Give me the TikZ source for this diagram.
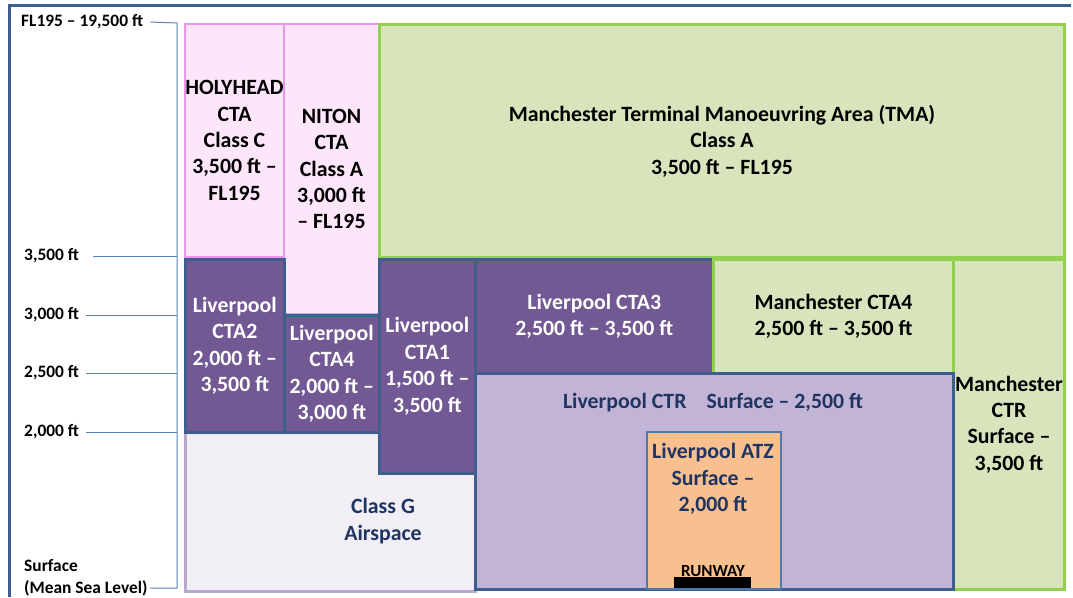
\documentclass[tikz,border=0pt]{standalone}
\usepackage{fontspec}
\setmainfont{Carlito}
\definecolor{pinkfill}{HTML}{FDE5FA}
\definecolor{pinkline}{HTML}{EE96EE}
\definecolor{greenfill}{HTML}{D8E4BC}
\definecolor{greenline}{HTML}{92D050}
\definecolor{purplefill}{HTML}{725993}
\definecolor{blueline}{HTML}{3E5F8E}
\definecolor{lilacfill}{HTML}{C2B4D6}
\definecolor{gfill}{HTML}{F1EEF5}
\definecolor{gline}{HTML}{B7A7CB}
\definecolor{atzfill}{HTML}{F9C08F}
\definecolor{atzline}{HTML}{4F79AA}
\definecolor{navytext}{HTML}{1F3460}
\definecolor{axisline}{HTML}{5A84B4}
\definecolor{framecol}{HTML}{3F5E8E}
\newcommand\bigfnt{\fontsize{21.8}{26.4}\selectfont\bfseries}
\newcommand\axfnt{\fontsize{17.4}{21.5}\selectfont\bfseries}
\begin{document}
\begin{tikzpicture}[x=1pt,y=-1pt,
  box/.style={draw, inner sep=0pt, anchor=north west, align=center, font=\bigfnt},
  pinkbox/.style={box, fill=pinkfill, draw=pinkline, line width=2pt, text=black},
  greenbox/.style={box, fill=greenfill, draw=greenline, line width=3pt, text=black},
  purplebox/.style={box, fill=purplefill, draw=blueline, line width=2.6pt, text=white},
  lbl/.style={align=center, font=\bigfnt, text=navytext, inner sep=0pt},
  axlbl/.style={anchor=west, font=\axfnt, inner sep=0pt, text=black},
  axis/.style={draw=axisline, line width=1pt}]
\useasboundingbox (0,0) rectangle (1073,597);
% frame
\draw[framecol, line width=3pt] (9,597) -- (9,5) -- (1071,5);
% upper boxes
\node[pinkbox, minimum width=99pt, minimum height=233pt] (holy) at (184,23) {HOLYHEAD\\CTA\\Class C\\3,500 ft --\\FL195};
\node[pinkbox, minimum width=95pt, minimum height=290pt] (niton) at (283,23) {NITON\\CTA\\Class A\\3,000 ft\\-- FL195};
\node[greenbox, minimum width=685pt, minimum height=233pt] (tma) at (378,23) {Manchester Terminal Manoeuvring Area (TMA)\\Class A\\3,500 ft -- FL195};
% class G
\node[box, fill=gfill, draw=gline, line width=2.5pt, minimum width=290pt, minimum height=159pt] (classg) at (184,431) {};
\node[lbl] (classgtext) at (383,521) {Class G\\Airspace};
% Liverpool CTAs
\node[purplebox, minimum width=99pt, minimum height=173pt] (cta2) at (184,258) {Liverpool\\CTA2\\2,000 ft --\\3,500 ft};
\node[purplebox, minimum width=95pt, minimum height=117pt] (cta4l) at (283,314) {Liverpool\\CTA4\\2,000 ft --\\3,000 ft};
\node[purplebox, minimum width=96pt, minimum height=214pt] (cta1) at (378,258) {Liverpool\\CTA1\\1,500 ft --\\3,500 ft};
\node[purplebox, minimum width=238pt, minimum height=114pt] (cta3) at (474,258) {Liverpool CTA3\\2,500 ft -- 3,500 ft};
% Manchester CTA4 and CTR
\node[greenbox, minimum width=240pt, minimum height=114pt] (mcta4) at (712,258) {Manchester CTA4\\2,500 ft -- 3,500 ft};
\node[greenbox, minimum width=111pt, minimum height=330pt] (mctr) at (952,258) {Manchester\\CTR\\Surface --\\3,500 ft};
% Liverpool CTR
\node[box, fill=lilacfill, draw=blueline, line width=2.6pt, minimum width=478pt, minimum height=216pt] (lctr) at (474,372) {};
\node[lbl] (lctrtext) at (713,403) {Liverpool CTR\hspace{20pt}Surface -- 2,500 ft};
% ATZ
\node[box, fill=atzfill, draw=atzline, line width=2pt, minimum width=134pt, minimum height=157pt] (atz) at (646,431) {};
\node[lbl] (atztext) at (713,479) {Liverpool ATZ\\Surface --\\2,000 ft};
\node[box, fill=black, draw=none, minimum width=77pt, minimum height=11pt] (runway) at (674,577) {};
\node[font=\fontsize{17}{19}\selectfont\bfseries, inner sep=0pt, anchor=base] (rwtext) at (713,576) {RUNWAY};
% axis
\coordinate (atop) at (177,23);
\coordinate (abot) at (177,588);
\node[axlbl] (lfl) at (21,22) {FL195 -- 19,500 ft};
\node[axlbl] (l35) at (24,256) {3,500 ft};
\node[axlbl] (l30) at (24,315) {3,000 ft};
\node[axlbl] (l25) at (24,373) {2,500 ft};
\node[axlbl] (l20) at (24,432) {2,000 ft};
\node[axlbl, align=left] (lsfc) at (24,578) {Surface\\(Mean Sea Level)};
\coordinate (a35) at (177,256);
\coordinate (a30) at (177,315);
\coordinate (a25) at (177,373);
\coordinate (a20) at (177,432);
\draw[axis] ([xshift=7pt]lfl.east) -- (atop) -- (abot) -- (150,588);
\draw[axis] ([xshift=14pt]l35.east) -- (a35);
\draw[axis] ([xshift=7pt]l30.east) -- (a30);
\draw[axis] ([xshift=7pt]l25.east) -- (a25);
\draw[axis] ([xshift=7pt]l20.east) -- (a20);
\end{tikzpicture}
\end{document}
